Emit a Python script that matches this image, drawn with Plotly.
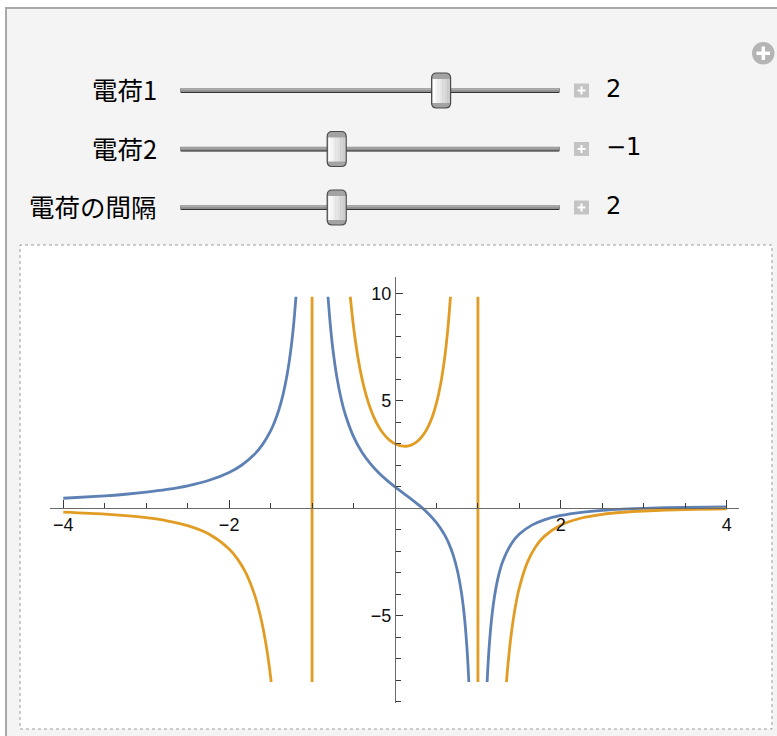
import plotly.graph_objects as go

# ---- slider settings shown above the plot ----
slider_labels = ["電荷1", "電荷2", "電荷の間隔"]
slider_values = [2, -1, 2]
slider_ranges = [(-5, 5), (-5, 5), (0, 5)]
value_texts = ["2", "\u22121", "2"]

# ---- potential (blue) ----
blue_left_x = [-4.0, -3.5, -3.25, -3.0, -2.75, -2.5, -2.25, -2.0, -1.85, -1.7, -1.6,
               -1.5, -1.45, -1.4, -1.35, -1.3, -1.25, -1.22, -1.194]
blue_left_y = [0.467, 0.578, 0.654, 0.75, 0.876, 1.048, 1.292, 1.667, 2.002, 2.487, 2.949,
               3.6, 4.036, 4.583, 5.289, 6.232, 7.556, 8.640, 9.84]

blue_mid_x = [-0.8078, -0.78, -0.75, -0.7, -0.65, -0.6, -0.5, -0.4, -0.3, -0.2, -0.1, 0.0,
              0.1, 0.2, 0.3, 0.4, 0.5, 0.6, 0.65, 0.7, 0.75, 0.8, 0.83, 0.85, 0.87, 0.88, 0.8906]
blue_mid_y = [9.84, 8.529, 7.429, 6.078, 5.108, 4.375, 3.333, 2.619, 2.088, 1.667, 1.313, 1.0,
              0.707, 0.417, 0.110, -0.238, -0.667, -1.25, -1.645, -2.157, -2.857, -3.889,
              -4.790, -5.586, -6.623, -7.270, -8.08]

blue_right_x = [1.1108, 1.12, 1.14, 1.17, 1.2, 1.25, 1.3, 1.4, 1.5, 1.65, 1.8, 2.0, 2.25,
                2.5, 2.75, 3.0, 3.5, 4.0]
blue_right_y = [-8.08, -7.39, -6.208, -4.961, -4.091, -3.111, -2.464, -1.667, -1.2, -0.784,
                -0.536, -0.333, -0.185, -0.095, -0.038, 0.0, 0.044, 0.067]

# ---- field (orange) ----
orange_left_x = [-4.0, -3.5, -3.25, -3.0, -2.75, -2.5, -2.25, -2.0, -1.9, -1.8, -1.7,
                 -1.65, -1.6, -1.55, -1.52, -1.4926]
orange_left_y = [-0.182, -0.271, -0.340, -0.438, -0.582, -0.807, -1.185, -1.889, -2.350,
                 -2.997, -3.944, -4.591, -5.408, -6.458, -7.239, -8.08]

orange_mid_x = [-0.5392, -0.5, -0.45, -0.4, -0.35, -0.3, -0.25, -0.2, -0.15, -0.1, -0.05, 0.0,
                0.05, 0.1, 0.15, 0.2, 0.25, 0.3, 0.35, 0.4, 0.45, 0.5, 0.55, 0.6, 0.63, 0.65, 0.6689]
orange_mid_y = [9.84, 8.444, 7.087, 6.066, 5.282, 4.673, 4.196, 3.819, 3.524, 3.296, 3.123, 3.0,
                2.922, 2.888, 2.896, 2.951, 3.058, 3.224, 3.464, 3.798, 4.257, 4.889, 5.771,
                7.031, 8.057, 8.898, 9.84]

orange_right_x = [1.3441, 1.36, 1.4, 1.45, 1.5, 1.6, 1.7, 1.8, 2.0, 2.25, 2.5, 2.75, 3.0, 3.5, 4.0]
orange_right_y = [-8.08, -7.357, -5.903, -4.605, -3.68, -2.482, -1.767, -1.307, -0.778, -0.451,
                  -0.281, -0.184, -0.125, -0.061, -0.031]

# jumps of the field across the two charges, clipped to the plot range
orange_jump_x = [-1.0, 1.0]
orange_jump_y = [-8.08, 9.84]

x_ticks = [-4, -2, 2, 4]
y_ticks = [-5, 5, 10]
x_minor = [-4, -3.5, -3, -2.5, -2, -1.5, -1, -0.5, 0.5, 1, 1.5, 2, 2.5, 3, 3.5, 4]
y_minor = [-9, -8, -7, -6, -5, -4, -3, -2, -1, 1, 2, 3, 4, 5, 6, 7, 8, 9, 10]

X_RANGE = [-4.160, 4.148]
Y_RANGE = [-9.056, 10.758]

BLUE = "#5E81B5"
ORANGE = "#E19C24"

W, H = 777, 736
ML, MR, MT, MB = 50, 38, 277, 33
PW, PH = W - ML - MR, H - MT - MB


def px(xp):
    return (xp - ML) / PW


def py(yp):
    return (H - MB - yp) / PH


def join(*parts):
    out = []
    for i, p in enumerate(parts):
        if i:
            out.append(None)
        out.extend(p)
    return out


fig = go.Figure()

fig.add_trace(go.Scatter(
    x=join(blue_left_x, blue_mid_x, blue_right_x),
    y=join(blue_left_y, blue_mid_y, blue_right_y),
    mode="lines", line=dict(color=BLUE, width=2.8, shape="spline", smoothing=0.8),
    connectgaps=False, hoverinfo="skip"))

fig.add_trace(go.Scatter(
    x=join(orange_left_x, [orange_jump_x[0]] * 2, orange_mid_x, [orange_jump_x[1]] * 2, orange_right_x),
    y=join(orange_left_y, orange_jump_y, orange_mid_y, orange_jump_y, orange_right_y),
    mode="lines", line=dict(color=ORANGE, width=2.8, shape="spline", smoothing=0.8),
    connectgaps=False, hoverinfo="skip"))

shapes = []


def rect(x0, y0, x1, y1, fill, line_color=None, line_width=0, dash=None):
    ln = dict(width=line_width, color=line_color or fill)
    if dash:
        ln["dash"] = dash
    shapes.append(dict(type="rect", xref="paper", yref="paper",
                       x0=px(x0), x1=px(x1), y0=py(y1), y1=py(y0),
                       fillcolor=fill, line=ln, layer="below"))


def seg(x0, y0, x1, y1, color, width):
    shapes.append(dict(type="line", xref="paper", yref="paper",
                       x0=px(x0), x1=px(x1), y0=py(y0), y1=py(y1),
                       line=dict(color=color, width=width), layer="below"))


def rounded(x0, y0, x1, y1, r, fill, line_color, line_width):
    def p(a, b):
        return f"{px(a):.5f},{py(b):.5f}"
    path = (f"M{p(x0 + r, y0)} L{p(x1 - r, y0)} Q{p(x1, y0)} {p(x1, y0 + r)} "
            f"L{p(x1, y1 - r)} Q{p(x1, y1)} {p(x1 - r, y1)} L{p(x0 + r, y1)} "
            f"Q{p(x0, y1)} {p(x0, y1 - r)} L{p(x0, y0 + r)} Q{p(x0, y0)} {p(x0 + r, y0)} Z")
    shapes.append(dict(type="path", xref="paper", yref="paper", path=path,
                       fillcolor=fill, line=dict(color=line_color, width=line_width),
                       layer="below"))


# outer panel and plot frame
rect(6, 8, 800, 760, "#f4f4f4", "#a9a9a9", 2)
rect(20, 245, 772, 729, "#ffffff", "#9c9c9c", 1, dash="dot")

# sliders
rail_y = [90.5, 149, 207.5]
RAIL_L, RAIL_R = 180, 560
TRAVEL_L, TRAVEL_R = 197.5, 545.5
handle_shades = ["#fdfdfd", "#f6f6f6", "#eeeeee", "#e6e6e6", "#dedede", "#d6d6d6", "#cdcdcd"]
annotations = []
for lab, val, (lo, hi), vtxt, ry in zip(slider_labels, slider_values, slider_ranges, value_texts, rail_y):
    seg(RAIL_L, ry, RAIL_R, ry, "#8e8e8e", 4.5)
    seg(RAIL_L + 1, ry + 2, RAIL_R - 1, ry + 2, "#333333", 1.2)
    seg(RAIL_L + 1, ry - 0.8, RAIL_R - 1, ry - 0.8, "#ababab", 1.2)
    hx = TRAVEL_L + (val - lo) / (hi - lo) * (TRAVEL_R - TRAVEL_L)
    hx0, hx1 = hx - 9.5, hx + 9.5
    hy0, hy1 = ry - 17.5, ry + 17.5
    rounded(hx0, hy0, hx1, hy1, 5, "#a3a3a3", "#4a4a4a", 1.2)
    # horizontal shading of the handle body
    n = len(handle_shades)
    bw = (hx1 - hx0 - 2) / n
    for i, c in enumerate(handle_shades):
        rect(hx0 + 1 + i * bw, hy0 + 6, hx0 + 1 + (i + 1) * bw + 0.3, hy1 - 5, c)
    # small plus button
    rect(574, ry - 7, 589, ry + 7, "#c4c4c4")
    seg(577.5, ry, 585.5, ry, "#ffffff", 2)
    seg(581.5, ry - 4, 581.5, ry + 4, "#ffffff", 2)
    annotations.append(dict(text=lab, xref="paper", yref="paper", x=px(159), y=py(ry - 2),
                            xanchor="right", yanchor="middle", showarrow=False,
                            font=dict(family="Noto Sans CJK JP", size=25.5, color="#000000")))
    annotations.append(dict(text=vtxt, xref="paper", yref="paper", x=px(604), y=py(ry - 2),
                            xanchor="left", yanchor="middle", showarrow=False,
                            font=dict(family="DejaVu Sans", size=24, color="#000000")))

# corner "+" icon
shapes.append(dict(type="circle", xref="paper", yref="paper",
                   x0=px(752), x1=px(774.5), y0=py(64.5), y1=py(42),
                   fillcolor="#b4b4b4", line=dict(width=0), layer="below"))
seg(756.5, 53.3, 770, 53.3, "#ffffff", 3.5)
seg(763.3, 46.5, 763.3, 60, "#ffffff", 3.5)

axis_common = dict(showgrid=False, zeroline=False, showline=True, linecolor="#6b6b6b",
                   linewidth=1.2, ticks="inside", tickcolor="#3a3a3a", tickwidth=1,
                   tickfont=dict(family="Liberation Sans", size=18, color="#111111"),
                   fixedrange=True)

fig.update_layout(
    width=W, height=H,
    margin=dict(l=ML, r=MR, t=MT, b=MB, pad=0),
    paper_bgcolor="#ffffff", plot_bgcolor="#ffffff",
    showlegend=False,
    shapes=shapes, annotations=annotations,
    xaxis=dict(range=X_RANGE, tickmode="array", tickvals=x_ticks, ticklen=8,
               anchor="free", position=(0 - Y_RANGE[0]) / (Y_RANGE[1] - Y_RANGE[0]),
               minor=dict(tickmode="array", tickvals=x_minor, ticks="inside", ticklen=5,
                          tickcolor="#3a3a3a", tickwidth=1, showgrid=False),
               **axis_common),
    yaxis=dict(range=Y_RANGE, tickmode="array", tickvals=y_ticks, ticklen=7,
               anchor="free", position=(0 - X_RANGE[0]) / (X_RANGE[1] - X_RANGE[0]),
               minor=dict(tickmode="array", tickvals=y_minor, ticks="inside", ticklen=5,
                          tickcolor="#3a3a3a", tickwidth=1, showgrid=False),
               **axis_common),
)

fig.write_html("out.html")
